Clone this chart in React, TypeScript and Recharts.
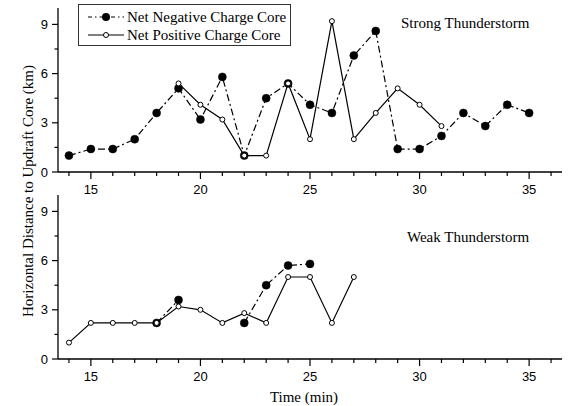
import { LineChart, Line, XAxis, YAxis, Legend } from 'recharts';

const strongTimes = [14, 15, 16, 17, 18, 19, 20, 21, 22, 23, 24, 25, 26, 27, 28, 29, 30, 31, 32, 33, 34, 35];
const strongNegative = [1.0, 1.4, 1.4, 2.0, 3.6, 5.1, 3.2, 5.8, 1.0, 4.5, 5.4, 4.1, 3.6, 7.1, 8.6, 1.4, 1.4, 2.2, 3.6, 2.8, 4.1, 3.6];
const strongPositive = [null, null, null, null, null, 5.4, 4.1, 3.2, 1.0, 1.0, 5.4, 2.0, 9.2, 2.0, 3.6, 5.1, 4.1, 2.8, null, null, null, null];

const weakTimes = [14, 15, 16, 17, 18, 19, 20, 21, 22, 23, 24, 25, 26, 27];
const weakNegative = [null, null, null, null, 2.2, 3.6, null, null, 2.2, 4.5, 5.7, 5.8, null, null];
const weakPositive = [1.0, 2.2, 2.2, 2.2, 2.2, 3.2, 3.0, 2.2, 2.8, 2.2, 5.0, 5.0, 2.2, 5.0];

const xTicks = [14, 15, 16, 17, 18, 19, 20, 21, 22, 23, 24, 25, 26, 27, 28, 29, 30, 31, 32, 33, 34, 35, 36];
const yTicks = [0, 1.5, 3, 4.5, 6, 7.5, 9];

const negName = 'Net Negative Charge Core';
const posName = 'Net Positive Charge Core';

const strongData = strongTimes.map((t, i) => ({ time: t, neg: strongNegative[i], pos: strongPositive[i] }));
const weakData = weakTimes.map((t, i) => ({ time: t, neg: weakNegative[i], pos: weakPositive[i] }));

const SERIF = '"Liberation Serif", "Times New Roman", serif';
const SANS = '"Liberation Sans", Arial, sans-serif';
const DASH = '7 3 2 3';

const XTick = (props: any) => {
  const { x, y, payload } = props;
  const major = payload.value % 5 === 0;
  return (
    <g>
      <line x1={x} x2={x} y1={y} y2={y + (major ? 7 : 4)} stroke="#000" strokeWidth={1.2} />
      {major && (
        <text x={x} y={y + 22} textAnchor="middle" fontSize={13} fontFamily={SANS} fill="#000">
          {payload.value}
        </text>
      )}
    </g>
  );
};

const YTick = (props: any) => {
  const { x, y, payload } = props;
  const major = payload.value % 3 === 0;
  return (
    <g>
      <line x1={x - (major ? 6 : 3.5)} x2={x} y1={y} y2={y} stroke="#000" strokeWidth={1.2} />
      {major && (
        <text x={x - 10} y={y + 4.5} textAnchor="end" fontSize={13} fontFamily={SANS} fill="#000">
          {payload.value}
        </text>
      )}
    </g>
  );
};

const LegendBox = () => (
  <svg width={213} height={42} style={{ display: 'block' }}>
    <rect x={0.5} y={0.5} width={212} height={41} fill="#fff" stroke="#333" strokeWidth={1} />
    <line x1={10} x2={46} y1={13} y2={13} stroke="#000" strokeWidth={1.2} strokeDasharray="4 3 1.5 3" />
    <circle cx={28} cy={13} r={4} fill="#000" />
    <text x={49} y={18} fontSize={15} fontFamily={SERIF} fill="#000">{negName}</text>
    <line x1={10} x2={46} y1={31} y2={31} stroke="#000" strokeWidth={1.2} />
    <circle cx={28} cy={31} r={2.5} fill="#fff" stroke="#000" strokeWidth={1} />
    <text x={49} y={36} fontSize={15} fontFamily={SERIF} fill="#000">{posName}</text>
  </svg>
);

function Panel({ data, height, top, axisHeight, showLegend }: { data: any[]; height: number; top: number; axisHeight: number; showLegend?: boolean }) {
  return (
    <LineChart
      width={572}
      height={height}
      data={data}
      margin={{ top, right: 10, bottom: height - top - 164 - axisHeight, left: 0 }}
      style={{ position: 'absolute', left: 0 }}
    >
      <XAxis
        dataKey="time"
        type="number"
        domain={[13.5, 36.5]}
        ticks={xTicks}
        interval={0}
        allowDataOverflow
        height={axisHeight}
        tickSize={0}
        tickMargin={0}
        tickLine={false}
        tick={<XTick />}
        axisLine={{ stroke: '#000', strokeWidth: 1.3 }}
      />
      <YAxis
        type="number"
        domain={[0, 10]}
        ticks={yTicks}
        interval={0}
        width={58}
        tickSize={0}
        tickMargin={0}
        tickLine={false}
        tick={<YTick />}
        axisLine={{ stroke: '#000', strokeWidth: 1.3 }}
      />
      {showLegend && (
        <Legend
          layout="horizontal"
          verticalAlign="middle"
          align="center"
          content={<LegendBox />}
          wrapperStyle={{ position: 'absolute', left: 78, top: 4, width: 213, height: 42 }}
        />
      )}
      <Line
        dataKey="neg"
        name={negName}
        stroke="#000"
        strokeWidth={1.2}
        strokeDasharray={DASH}
        dot={{ r: 4, fill: '#000', stroke: '#000', strokeWidth: 0.5, strokeDasharray: '' }}
        activeDot={false}
        connectNulls={false}
        isAnimationActive={false}
      />
      <Line
        dataKey="pos"
        name={posName}
        stroke="#000"
        strokeWidth={1.2}
        dot={{ r: 2.5, fill: '#fff', stroke: '#000', strokeWidth: 1 }}
        activeDot={false}
        connectNulls={false}
        isAnimationActive={false}
      />
    </LineChart>
  );
}

export default function App() {
  return (
    <div style={{ position: 'absolute', left: 0, top: 0, width: 572, height: 406, background: '#fff', overflow: 'hidden' }}>
      <div style={{ position: 'absolute', left: 0, top: 0, width: 572, height: 200 }}>
        <Panel data={strongData} height={200} top={8} axisHeight={28} showLegend />
      </div>
      <div style={{ position: 'absolute', left: 0, top: 190, width: 572, height: 216 }}>
        <Panel data={weakData} height={216} top={5} axisHeight={40} />
      </div>
      <svg width={572} height={406} style={{ position: 'absolute', left: 0, top: 0, pointerEvents: 'none' }}>
        <text x={401} y={28} fontSize={15} fontFamily={SERIF} fill="#000">Strong Thunderstorm</text>
        <text x={407} y={242} fontSize={15} fontFamily={SERIF} fill="#000">Weak Thunderstorm</text>
        <text x={33} y={191} transform="rotate(-90 33 191)" textAnchor="middle" fontSize={15} fontFamily={SERIF} fill="#000">
          Horizontal Distance to Updraft Core (km)
        </text>
        <text x={304} y={402} textAnchor="middle" fontSize={15} fontFamily={SERIF} fill="#000">Time (min)</text>
      </svg>
    </div>
  );
}
